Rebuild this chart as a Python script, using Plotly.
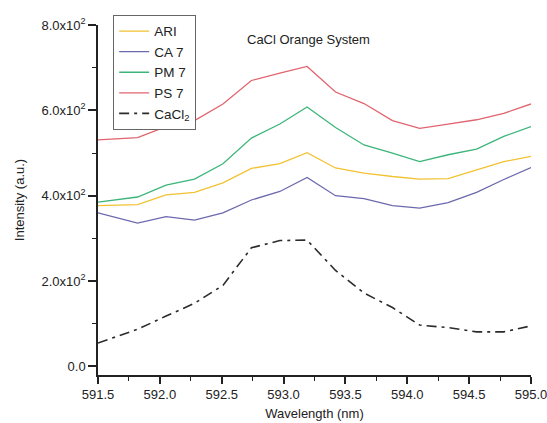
import plotly.graph_objects as go

wavelength = [591.5, 591.82, 592.05, 592.28, 592.51, 592.74, 592.97, 593.19,
              593.42, 593.65, 593.88, 594.1, 594.33, 594.56, 594.78, 595.0]
ari = [377, 379, 402, 408, 430, 464, 475, 501, 465, 453, 445, 439, 440, 460, 480, 492]
ca7 = [360, 336, 351, 343, 360, 390, 410, 443, 400, 393, 377, 371, 384, 408, 438, 466]
pm7 = [385, 397, 425, 439, 475, 535, 568, 608, 560, 519, 500, 480, 496, 509, 539, 562]
ps7 = [531, 536, 562, 576, 615, 670, 687, 703, 643, 616, 576, 558, 568, 578, 593, 615]
cacl2 = [55, 87, 118, 148, 190, 278, 295, 296, 225, 172, 138, 97, 91, 81, 81, 95]

y_tickvals = [0, 200, 400, 600, 800]
y_ticktext = ["0.0", "2.0x10<sup>2</sup>", "4.0x10<sup>2</sup>", "6.0x10<sup>2</sup>", "8.0x10<sup>2</sup>"]
x_tickvals = [591.5, 592.0, 592.5, 593.0, 593.5, 594.0, 594.5, 595.0]
x_ticktext = ["591.5", "592.0", "592.5", "593.0", "593.5", "594.0", "594.5", "595.0"]

series = [
    ("ARI", ari, "#f2c232", "solid", 1.3),
    ("CA 7", ca7, "#6b69ad", "solid", 1.3),
    ("PM 7", pm7, "#3cb57a", "solid", 1.3),
    ("PS 7", ps7, "#e0646e", "solid", 1.3),
    ("CaCl<sub>2</sub>", cacl2, "#2b2b2b", "10px,5px,3px,5px", 1.6),
]

fig = go.Figure()
for name, vals, color, dash, w in series:
    fig.add_trace(go.Scatter(x=wavelength, y=vals, mode="lines", name=name,
                             line=dict(color=color, width=w, dash=dash)))

font_family = "Liberation Sans, Arial, sans-serif"
fig.update_layout(
    width=547, height=423,
    margin=dict(l=98, r=16, t=25, b=48),
    paper_bgcolor="white", plot_bgcolor="white",
    font=dict(family=font_family, size=13, color="#222"),
    showlegend=True,
    legend=dict(x=0.035, y=1.029, xanchor="left", yanchor="top",
                bordercolor="#666", borderwidth=1, bgcolor="white",
                font=dict(size=13.5, color="#222"), tracegroupgap=0),
    xaxis=dict(range=[591.5, 595.0], tickvals=x_tickvals, ticktext=x_ticktext,
               automargin=False, ticklabeloverflow="allow",
               showline=True, linecolor="#222", linewidth=1.5, mirror=False,
               ticks="outside", ticklen=7, tickwidth=1.5, tickcolor="#222",
               minor=dict(dtick=0.25, tick0=591.5, ticks="outside", ticklen=4,
                          tickwidth=1.2, tickcolor="#222"),
               showgrid=False, zeroline=False,
               title=dict(text="Wavelength (nm)", font=dict(size=13), standoff=8),
               tickfont=dict(size=13)),
    yaxis=dict(range=[-20, 800], tickvals=y_tickvals, ticktext=y_ticktext,
               automargin=False, ticklabeloverflow="allow",
               showline=True, linecolor="#222", linewidth=1.5, mirror=False,
               ticks="outside", ticklen=8, tickwidth=1.5, tickcolor="#222",
               minor=dict(dtick=100, tick0=0, ticks="outside", ticklen=4,
                          tickwidth=1.2, tickcolor="#222"),
               showgrid=False, zeroline=False,
               title=dict(text="Intensity (a.u.)", font=dict(size=13), standoff=14),
               tickfont=dict(size=13)),
    annotations=[dict(text="CaCl Orange System", showarrow=False,
                      xref="paper", yref="paper",
                      x=(308 - 98) / 433, y=(375 - 40) / 350,
                      xanchor="center", yanchor="middle",
                      font=dict(size=13, color="#222"))],
)

# remove the default page margin so the 547x423 figure fills the window exactly
fig.write_html("out.html",
               config={"displayModeBar": False},
               post_script="document.body.style.margin='0';document.body.style.overflow='hidden';")
